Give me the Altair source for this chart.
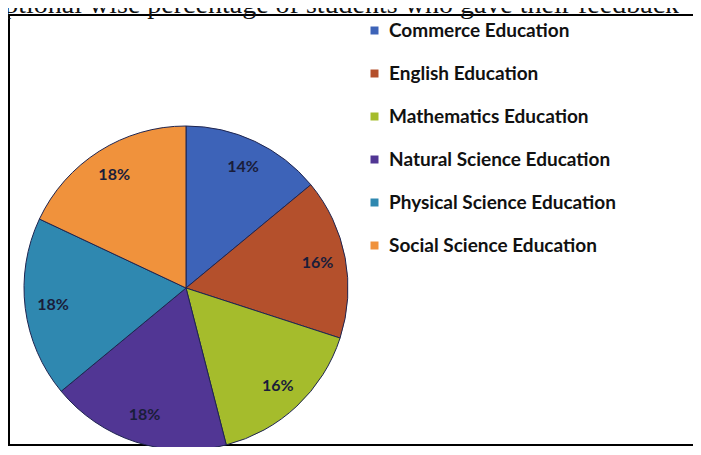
import altair as alt
import pandas as pd

categories = [
    "Commerce Education",
    "English Education",
    "Mathematics Education",
    "Natural Science Education",
    "Physical Science Education",
    "Social Science Education",
]
percentages = [14, 16, 16, 18, 18, 18]
colors = ["#3d63b8", "#b4502c", "#a5bc2c", "#513694", "#2f88b0", "#f0923c"]
title_text = "Optional wise percentage of students who gave their feedback"

df = pd.DataFrame({"category": categories, "pct": percentages, "order": list(range(len(categories)))})
df["label"] = df["pct"].astype(str) + "%"

CX, CY = 178, 280

base = alt.Chart(df).encode(
    theta=alt.Theta("pct:Q", stack=True),
    order=alt.Order("order:Q"),
)

pie = base.mark_arc(outerRadius=162, stroke="#1f2550", strokeWidth=1).encode(
    color=alt.Color(
        "category:N",
        scale=alt.Scale(domain=categories, range=colors),
        legend=alt.Legend(
            orient="none",
            legendX=357,
            legendY=13,
            title=None,
            symbolType="square",
            symbolSize=64,
            symbolStrokeWidth=0,
            labelFont="Lato",
            labelFontSize=19,
            labelFontWeight="bold",
            labelColor="#111111",
            rowPadding=23,
            labelOffset=5,
            labelLimit=400,
        ),
    ),
    x=alt.value(CX),
    y=alt.value(CY),
)

labels = base.mark_text(
    radius=134, font="Lato", fontSize=16, fontWeight="bold", color="#1a1d3a"
).encode(text="label:N", x=alt.value(CX), y=alt.value(CY))

one = pd.DataFrame({"t": [title_text]})
top_line = alt.Chart(one).mark_rule(color="black", strokeWidth=2).encode(
    x=alt.value(0), x2=alt.value(700), y=alt.value(7)
)
left_line = alt.Chart(one).mark_rule(color="black", strokeWidth=2).encode(
    x=alt.value(1), y=alt.value(6), y2=alt.value(438)
)
bottom_line = alt.Chart(one).mark_rule(color="black", strokeWidth=2).encode(
    x=alt.value(0), x2=alt.value(700), y=alt.value(437)
)
title = alt.Chart(one).mark_text(
    align="left", baseline="alphabetic", font="Liberation Serif", fontSize=28, color="#111111"
).encode(text="t:N", x=alt.value(-24), y=alt.value(5))

chart = (
    alt.layer(top_line, left_line, bottom_line, pie, labels, title)
    .properties(width=685, height=439, autosize=alt.AutoSizeParams(type="none"), padding=0)
    .configure_view(stroke="transparent", strokeWidth=0)
)

chart.save("out.html", embed_options={"renderer": "svg", "actions": False})
